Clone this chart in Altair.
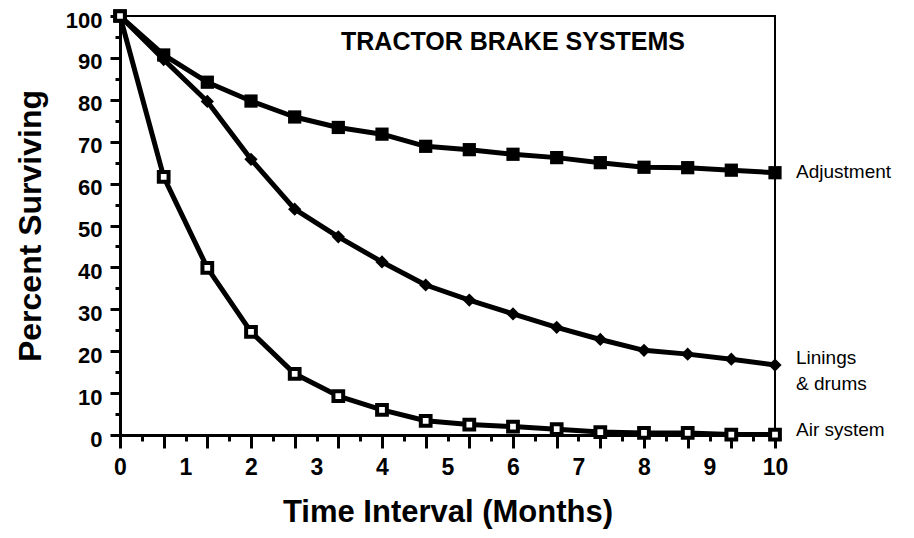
import altair as alt
import pandas as pd

# ---- data ----
months = [0, 0.667, 1.333, 2, 2.667, 3.333, 4, 4.667, 5.333, 6, 6.667, 7.333, 8, 8.667, 9.333, 10]
adjustment = [100, 90.7, 84.2, 79.7, 75.9, 73.4, 71.8, 68.9, 68.1, 67.0, 66.2, 65.0, 63.9, 63.8, 63.2, 62.6]
linings = [100, 89.6, 79.6, 65.8, 53.9, 47.3, 41.3, 35.8, 32.2, 28.9, 25.7, 22.8, 20.2, 19.3, 18.1, 16.7]
air_system = [100, 61.6, 39.9, 24.6, 14.6, 9.3, 6.0, 3.4, 2.5, 2.0, 1.4, 0.7, 0.5, 0.5, 0.1, 0.1]

series_names = ["Adjustment", "Linings & drums", "Air system"]
label_texts = ["Adjustment", "Linings\n& drums", "Air system"]
label_y = [62.8, 18.3, 1.2]

x_label_values = [0, 1, 2, 3, 4, 5, 6, 7, 8, 9, 10]
x_minor_ticks = [0.333, 1, 1.667, 2.333, 3, 3.667, 4.333, 5, 5.667, 6.333, 7, 7.667, 8.333, 9, 9.667]
y_major = [0, 10, 20, 30, 40, 50, 60, 70, 80, 90, 100]
y_minor = [5, 15, 25, 35, 45, 55, 65, 75, 85, 95]

chart_title = "TRACTOR BRAKE SYSTEMS"
x_title = "Time Interval (Months)"
y_title = "Percent Surviving"

FONT = "Liberation Sans"

rows = []
for name, vals in zip(series_names, [adjustment, linings, air_system]):
    for m, v in zip(months, vals):
        rows.append({"month": m, "value": v, "series": name})
df = pd.DataFrame(rows)

labels_df = pd.DataFrame({"month": [months[-1]] * 3, "value": label_y, "label": label_texts})
title_df = pd.DataFrame({"month": [6.0], "value": [93.8], "label": [chart_title]})

xscale = alt.Scale(domain=[0, 10], nice=False, zero=False)
yscale = alt.Scale(domain=[0, 100], nice=False, zero=False)

x_main = alt.X("month:Q", scale=xscale, axis=alt.Axis(
    values=x_label_values, orient="bottom", ticks=False, tickSize=0,
    domain=True, domainColor="black", domainWidth=3, grid=False,
    labelFont=FONT, labelFontSize=23, labelFontWeight="bold", labelColor="black",
    labelPadding=21, labelFlush=False, format="d",
    title=x_title, titleFont=FONT, titleFontSize=31, titleFontWeight="bold",
    titleColor="black", titlePadding=18))
y_main = alt.Y("value:Q", scale=yscale, axis=alt.Axis(
    values=y_major, orient="left", ticks=True, tickSize=10, tickWidth=3,
    tickColor="black", domain=True, domainColor="black", domainWidth=3, grid=False,
    labelFont=FONT, labelFontSize=22, labelFontWeight="bold", labelColor="black",
    labelPadding=8, labelOffset=4, labelFlush=False, format="d",
    title=y_title, titleFont=FONT, titleFontSize=32, titleFontWeight="bold",
    titleColor="black", titlePadding=18))

x_major_ticks = alt.X("month:Q", scale=xscale, axis=alt.Axis(
    values=months, orient="bottom", ticks=True, tickSize=13, tickWidth=3,
    tickColor="black", labels=False, domain=False, grid=False, title=None))
y_minor_ax = alt.Y("value:Q", scale=yscale, axis=alt.Axis(
    values=y_minor, orient="left", ticks=True, tickSize=5, tickWidth=3,
    tickColor="black", labels=False, domain=False, grid=False, title=None))
x_minor_ax = alt.X("month:Q", scale=xscale, axis=alt.Axis(
    values=x_minor_ticks, orient="bottom", ticks=True, tickSize=6, tickWidth=3,
    tickColor="black", labels=False, domain=False, grid=False, title=None))

x_none = alt.X("month:Q", scale=xscale, axis=None)
y_none = alt.Y("value:Q", scale=yscale, axis=None)

base = alt.Chart(df)

lines = base.mark_line(color="black", strokeJoin="round").encode(
    x=x_main, y=y_main, detail="series:N",
    strokeWidth=alt.StrokeWidth("series:N", scale=alt.Scale(domain=series_names, range=[5, 5, 4]), legend=None),
)

adj_pts = base.transform_filter(alt.datum.series == series_names[0]).mark_point(
    shape="square", filled=True, color="black", size=175, opacity=1
).encode(x=x_major_ticks, y=y_minor_ax)

lin_pts = base.transform_filter(alt.datum.series == series_names[1]).mark_point(
    shape="diamond", filled=True, color="black", size=175, opacity=1
).encode(x=x_minor_ax, y=y_none)

air_pts = base.transform_filter(alt.datum.series == series_names[2]).mark_point(
    shape="square", fill="white", fillOpacity=1, stroke="black", strokeWidth=4, size=95, opacity=1
).encode(x=x_none, y=y_none)

labels = alt.Chart(labels_df).mark_text(
    align="left", baseline="middle", dx=21, font=FONT, fontSize=19, color="black",
    lineBreak="\n", lineHeight=26
).encode(x=x_none, y=y_none, text="label:N")

title = alt.Chart(title_df).mark_text(
    align="center", baseline="middle", font=FONT, fontSize=25, fontWeight="bold", color="black"
).encode(x=x_none, y=y_none, text="label:N")

chart = alt.layer(lines, adj_pts, lin_pts, air_pts, labels, title).resolve_axis(
    x="independent", y="independent"
).properties(
    width=655, height=419,
    padding={"left": 112, "top": 8, "right": 120, "bottom": 95},
    autosize=alt.AutoSizeParams(type="none"),
    background="white",
).configure_view(stroke="black", strokeWidth=2)

chart.save("out.html", embed_options={"renderer": "svg", "actions": False})
